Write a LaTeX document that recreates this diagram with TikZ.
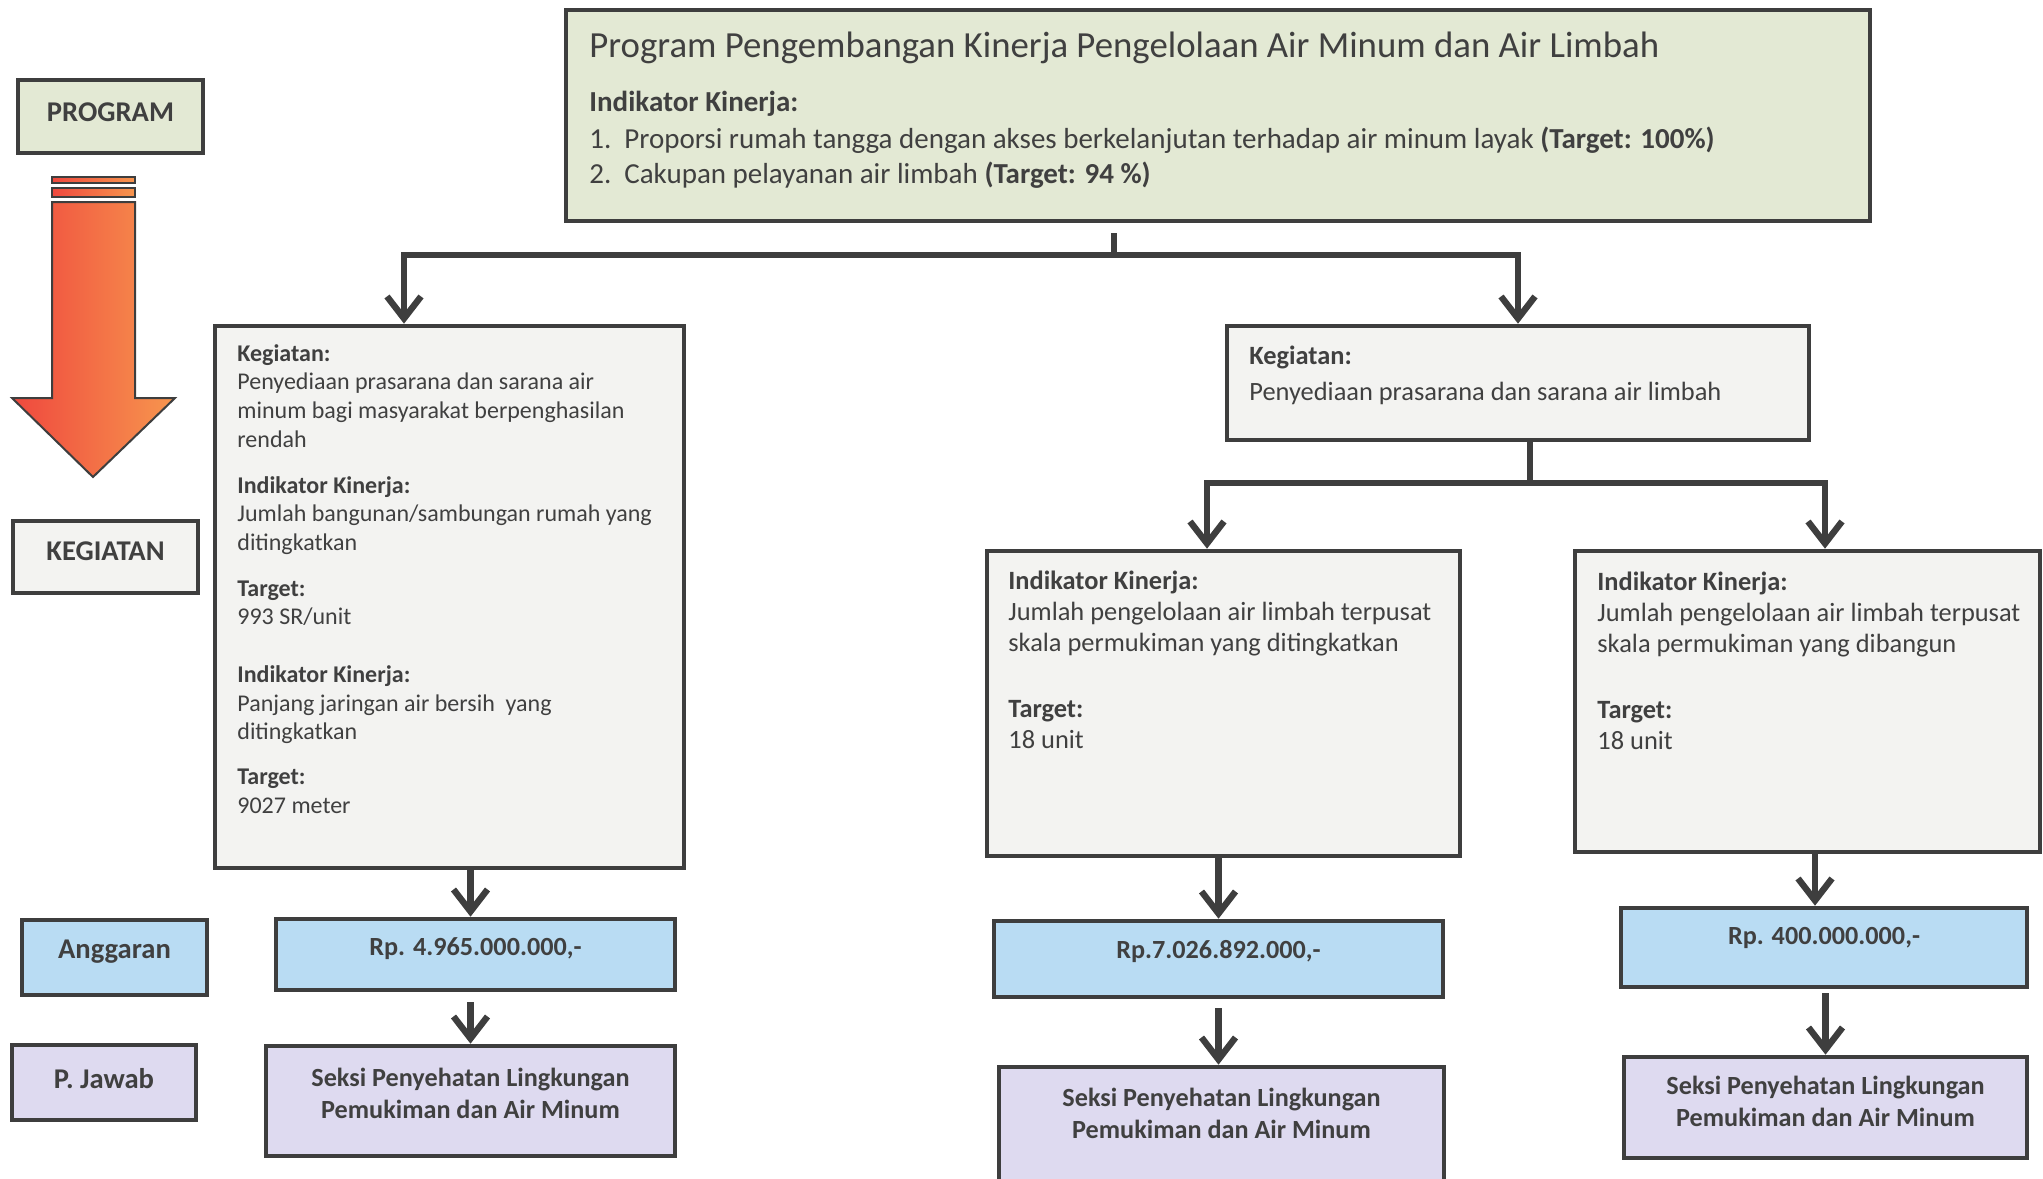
\documentclass[tikz,border=0pt]{standalone}
\usepackage{fontspec}
\setmainfont{Carlito}
\usetikzlibrary{arrows.meta,positioning}

\definecolor{edge}{RGB}{62,62,62}
\definecolor{ink}{RGB}{64,64,64}
\definecolor{progfill}{RGB}{227,233,212}
\definecolor{grayfill}{RGB}{243,243,241}
\definecolor{bluefill}{RGB}{185,220,243}
\definecolor{lilacfill}{RGB}{222,218,240}
\definecolor{arrowred}{RGB}{239,72,62}
\definecolor{arroworange}{RGB}{247,150,78}

\tikzset{
  box/.style = {draw=edge, line width=2.3pt, rectangle, inner sep=0pt},
  prog/.style = {box, fill=progfill},
  keg/.style = {box, fill=grayfill},
  dana/.style = {box, fill=bluefill},
  pj/.style = {box, fill=lilacfill},
  lbl/.style = {text=ink, font=\fontsize{14.3}{16}\selectfont\bfseries},
  rp/.style = {text=ink, font=\fontsize{13.1}{15}\selectfont\bfseries},
  seksi/.style = {text=ink, align=center, font=\fontsize{13.1}{16}\selectfont\bfseries},
  info/.style = {anchor=north west, align=left, text=ink, inner sep=0pt},
  conn/.style = {draw=edge, line width=3.2pt},
  arr/.style = {conn, -{Straight Barb[length=11pt,width=17pt]}},
}

\begin{document}
\begin{tikzpicture}[x=0.5pt,y=-0.5pt]
	\useasboundingbox (0,0) rectangle (2043,1178);

	% left column
	\node[prog, minimum width=92.5pt, minimum height=36.5pt] (program) at (110.5,116.5) {};
	\node[lbl] (programtxt) at ([yshift=2.25pt]program.center) {PROGRAM};
	\node[keg, minimum width=92.5pt, minimum height=36pt] (kegiatan) at (105.5,557) {};
	\node[lbl] (kegiatantxt) at ([yshift=3pt]kegiatan.center) {KEGIATAN};
	\node[dana, minimum width=92.5pt, minimum height=37.5pt] (anggaran) at (114.5,957.5) {};
	\node[lbl] (anggarantxt) at ([yshift=2.75pt]anggaran.center) {Anggaran};
	\node[pj, minimum width=92pt, minimum height=37.5pt] (pjawab) at (104,1082.5) {};
	\node[lbl] (pjawabtxt) at ([yshift=1.75pt]pjawab.center) {P. Jawab};

	% red arrow
	\shade[left color=arrowred, right color=arroworange] (52,177) rectangle (135,183);
	\shade[left color=arrowred, right color=arroworange] (52,188) rectangle (135,197);
	\draw[edge, line width=0.8pt] (52,177) rectangle (135,183);
	\draw[edge, line width=0.8pt] (52,188) rectangle (135,197);
	\shade[left color=arrowred, right color=arroworange] (52,202) -- (135,202) -- (135,398) -- (175,398) -- (93,477) -- (12,398) -- (52,398) -- cycle;
	\draw[edge, line width=1pt, line join=miter] (52,202) -- (135,202) -- (135,398) -- (175,398) -- (93,477) -- (12,398) -- (52,398) -- cycle;

	% program
	\node[prog, minimum width=652pt, minimum height=105.5pt] (top) at (1218,115.5) {};
	\node[anchor=base west, text=ink, inner sep=0pt, font=\fontsize{18.4}{20}\selectfont] (title) at (589,57) {Program Pengembangan Kinerja Pengelolaan Air Minum dan Air Limbah};
	\node[info, font=\fontsize{14.5}{17.5}\selectfont] (topind) at (589,91) {\textbf{Indikator Kinerja:}\\[1pt]\makebox[17.5pt][l]{1.}Proporsi rumah tangga dengan akses berkelanjutan terhadap air minum layak \textbf{(Target: 100\%)}\\\makebox[17.5pt][l]{2.}Cakupan pelayanan air limbah \textbf{(Target: 94 \%)}};

	% kegiatan
	\node[keg, minimum width=234.5pt, minimum height=271pt] (kegA) at (449.5,597) {};
	\node[info, font=\fontsize{12}{14.35}\selectfont] (kegAtxt) at (237,344) {\textbf{Kegiatan:}\\Penyediaan prasarana dan sarana air\\minum bagi masyarakat berpenghasilan\\rendah\\[8.5pt]\textbf{Indikator Kinerja:}\\Jumlah bangunan/sambungan rumah yang\\ditingkatkan\\[8.5pt]\textbf{Target:}\\993 SR/unit\\[14.5pt]\textbf{Indikator Kinerja:}\\Panjang jaringan air bersih\ \ yang\\ditingkatkan\\[8pt]\textbf{Target:}\\9027 meter};
	\node[keg, minimum width=291pt, minimum height=57pt] (kegB) at (1518,383) {};
	\node[info, font=\fontsize{13.2}{15.5}\selectfont] (kegBtxt) at (1249,346) {\textbf{Kegiatan:}\\[2.5pt]Penyediaan prasarana dan sarana air limbah};

	% indikator
	\node[keg, minimum width=236.5pt, minimum height=152.5pt] (indA) at (1223.5,703.5) {};
	\node[info, font=\fontsize{13.2}{15.5}\selectfont] (indAtxt) at (1008,571) {\textbf{Indikator Kinerja:}\\Jumlah pengelolaan air limbah terpusat\\skala permukiman yang ditingkatkan\\[17.5pt]\textbf{Target:}\\18 unit};
	\node[keg, minimum width=232.5pt, minimum height=150.5pt] (indB) at (1807.5,701.5) {};
	\node[info, font=\fontsize{13.2}{15.5}\selectfont] (indBtxt) at (1597,572) {\textbf{Indikator Kinerja:}\\Jumlah pengelolaan air limbah terpusat\\skala permukiman yang dibangun\\[17.5pt]\textbf{Target:}\\18 unit};

	% anggaran
	\node[dana, minimum width=199.5pt, minimum height=35.5pt] (rpA) at (475.5,954.5) {};
	\node[rp] (rpAtxt) at ([yshift=2.75pt]rpA.center) {Rp. 4.965.000.000,-};
	\node[dana, minimum width=224.5pt, minimum height=38pt] (rpB) at (1218.5,959) {};
	\node[rp] (rpBtxt) at ([yshift=4pt]rpB.center) {Rp.7.026.892.000,-};
	\node[dana, minimum width=203pt, minimum height=39.5pt] (rpC) at (1824,947.5) {};
	\node[rp] (rpCtxt) at ([yshift=4.75pt]rpC.center) {Rp. 400.000.000,-};

	% penanggung jawab
	\node[pj, minimum width=204.5pt, minimum height=55pt] (skA) at (470.5,1101) {};
	\node[seksi] (skAtxt) at ([yshift=3.75pt]skA.center) {Seksi Penyehatan Lingkungan\\Pemukiman dan Air Minum};
	\node[pj, minimum width=222.5pt, minimum height=59pt] (skB) at (1221.5,1126) {};
	\node[seksi] (skBtxt) at ([yshift=6.5pt]skB.center) {Seksi Penyehatan Lingkungan\\Pemukiman dan Air Minum};
	\node[pj, minimum width=201.5pt, minimum height=50.5pt] (skC) at (1825.5,1107.5) {};
	\node[seksi] (skCtxt) at ([yshift=3pt]skC.center) {Seksi Penyehatan Lingkungan\\Pemukiman dan Air Minum};

	% connectors
	\coordinate (j1) at (1114,255);
	\coordinate (j2) at (1530,483);
	\coordinate (c3) at ([xshift=-4.5pt]rpC.north);
	\draw[conn, shorten <=5pt] (top.south -| j1) -- (j1);
	\draw[arr] (j1) -| ([xshift=-22.75pt]kegA.north);
	\draw[arr] (j1) -| (kegB.north);
	\draw[conn] (kegB.south -| j2) -- (j2);
	\draw[arr] (j2) -| ([xshift=-8.25pt]indA.north);
	\draw[arr] (j2) -| ([xshift=8.75pt]indB.north);
	\draw[arr] (kegA.south -| skA.north) -- (rpA.north -| skA.north);
	\draw[arr, shorten <=5pt] (rpA.south -| skA.north) -- (skA.north);
	\draw[arr] (indA.south -| rpB.north) -- (rpB.north);
	\draw[arr, shorten <=4.5pt] (rpB.south) -- (rpB.south |- skB.north);
	\draw[arr] (indB.south -| c3) -- (c3);
	\draw[arr, shorten <=2pt] (rpC.south -| skC.north) -- (skC.north);
\end{tikzpicture}
\end{document}
